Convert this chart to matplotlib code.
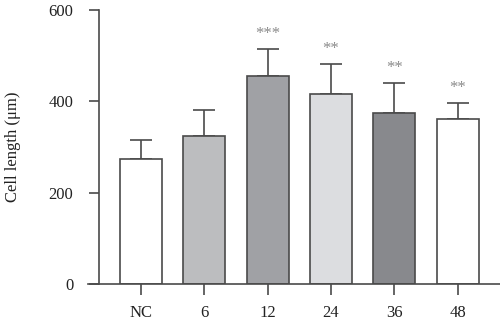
import matplotlib
matplotlib.use("Agg")
import matplotlib.pyplot as plt
import numpy as np

plt.rcParams['font.family'] = ['Liberation Serif', 'DejaVu Serif']

categories = ["NC", "6", "12", "24", "36", "48"]
means = [274, 324, 455, 415, 374, 362]
errors = [42, 58, 60, 67, 66, 34]
signif = ["", "", "***", "**", "**", "**"]
colors = ["#ffffff", "#bcbdbf", "#a0a1a5", "#dcdde0", "#88898d", "#ffffff"]

edge = "#4a4a4a"
fig = plt.figure(figsize=(5.0, 3.24), dpi=100)
ax = fig.add_axes([88 / 500, 1 - 284 / 324, 1 - 88 / 500, (284 - 10) / 324])

x = np.arange(len(categories))
ax.bar(x, means, width=0.665, color=colors, edgecolor=edge, linewidth=1.2,
       zorder=2)
ax.errorbar(x, means, yerr=[np.zeros(len(errors)), errors], fmt="none",
            ecolor=edge, elinewidth=1.2, capsize=7.9, capthick=1.2, zorder=1)

for xi, m, e, s in zip(x, means, errors, signif):
    if s:
        ax.annotate(s, (xi, m + e), xytext=(0, 5), textcoords="offset points",
                    ha="center", va="bottom", fontsize=12, color="#8a8a8a")

ax.set_xlim(-0.837, 5.669)
ax.set_ylim(0, 600)
ax.set_yticks([0, 200, 400, 600])
ax.set_xticks(x)
ax.set_xticklabels(categories)

for side in ("top", "right"):
    ax.spines[side].set_visible(False)
ax.spines["left"].set_position(("data", -0.663))
for side in ("left", "bottom"):
    ax.spines[side].set_color(edge)
    ax.spines[side].set_linewidth(1.2)

ax.tick_params(axis="y", direction="out", length=7.5, width=1.2, color=edge,
               pad=11, labelsize=12, labelcolor="#222222")
ax.tick_params(axis="x", direction="out", length=8, width=1.2, color=edge,
               pad=7, labelsize=12, labelcolor="#222222")

ax.set_ylabel("Cell length (μm)", fontsize=12, color="#222222", labelpad=20)

fig.savefig("out.png", dpi=100)
